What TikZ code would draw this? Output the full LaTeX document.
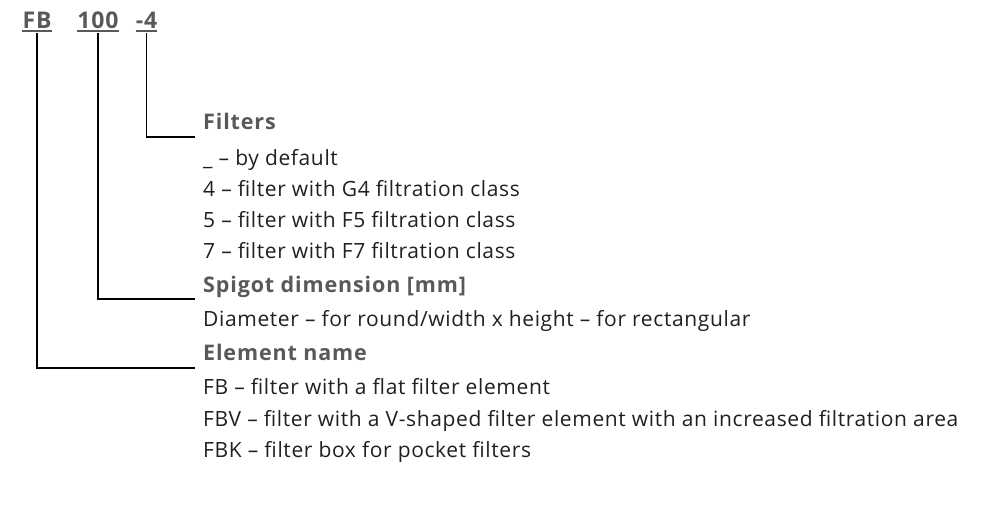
\documentclass[tikz,border=0pt]{standalone}
\usepackage{fontspec}
\setmainfont{Open Sans}[LetterSpace=3,BoldFeatures={LetterSpace=4}]
\definecolor{kopfgrau}{HTML}{58595B}
\definecolor{textschwarz}{HTML}{231F20}
\begin{document}
\begin{tikzpicture}[x=1pt,y=-1pt,
	code/.style={font=\fontsize{23}{27}\selectfont\bfseries,text=kopfgrau,inner xsep=0pt,inner ysep=2.5pt,anchor=base},
	head/.style={font=\fontsize{21.5}{26}\selectfont\bfseries,text=kopfgrau,inner sep=0pt,anchor=base west},
	item/.style={font=\fontsize{21}{25}\selectfont,text=textschwarz,inner sep=0pt,anchor=base west},
	leit/.style={line width=1.5pt,black},
	strich/.style={line width=1.6pt,kopfgrau}]
	\useasboundingbox (0,0) rectangle (1002,515);
	% Typenschluessel oben
	\node[code] (fb) at (37,28) {FB};
	\node[code] (dim) at (98,28) {100};
	\node[code] (filt) at (146.5,28) {-4};
	\foreach \c in {fb,dim,filt}
		\draw[strich] (\c.south west) to (\c.south east);
	% Ueberschriften
	\node[head] (filters) at (203,129) {Filters};
	\node[head] (spigot) at (203,292) {Spigot dimension [mm]};
	\node[head] (element) at (203,360) {Element name};
	% Eintraege
	\foreach \y/\t/\n in {165/{\_ – by default}/fa,196/{4 – filter with G4 filtration class}/fb4,227/{5 – filter with F5 filtration class}/fb5,258/{7 – filter with F7 filtration class}/fb7,
		326/{Diameter – for round/width x height – for rectangular}/da,
		394/{FB – filter with a flat filter element}/ea,426/{FBV – filter with a V-shaped filter element with an increased filtration area}/eb,457/{FBK – filter box for pocket filters}/ec}
		\node[item] (\n) at (203,\y) {\t};
	% Leitlinien
	\draw[leit] ([yshift=-2pt]filt.south) |- ([xshift=-8pt,yshift=-8pt]filters.base west);
	\draw[leit] ([yshift=-2pt]dim.south) |- ([xshift=-8pt,yshift=-7pt]spigot.base west);
	\draw[leit] ([yshift=-2pt]fb.south) |- ([xshift=-8pt,yshift=-8pt]element.base west);
\end{tikzpicture}
\end{document}
